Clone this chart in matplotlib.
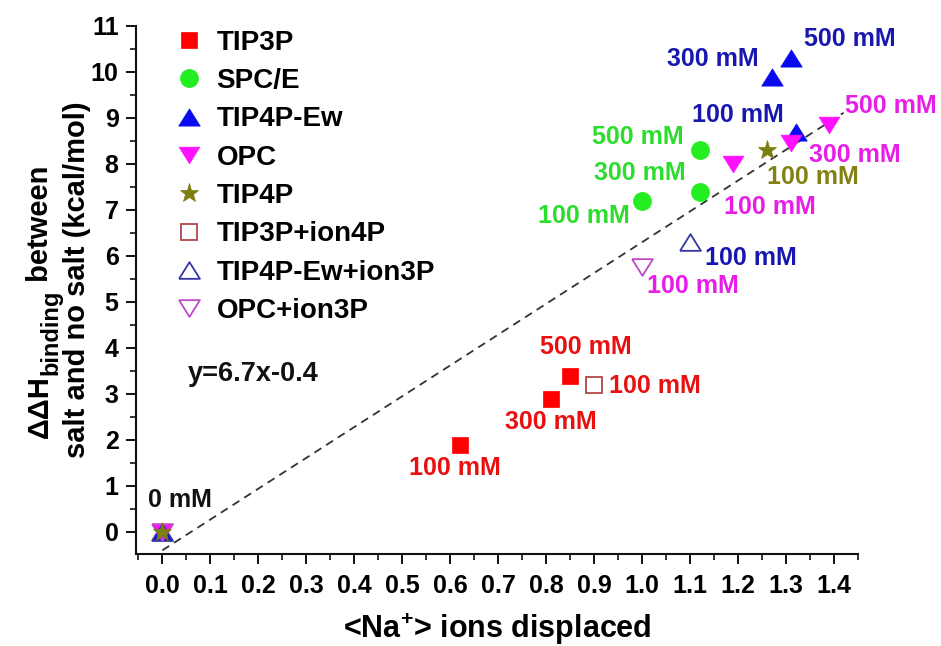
import matplotlib
matplotlib.use("Agg")
import matplotlib.pyplot as plt
import numpy as np
from matplotlib.ticker import MultipleLocator

plt.rcParams['font.family'] = ['Liberation Sans', 'DejaVu Sans']
plt.rcParams['font.weight'] = 'bold'
plt.rcParams['mathtext.default'] = 'regular'

# ---------------- data ----------------
tip3p_x = [0.62, 0.81, 0.85]
tip3p_y = [1.9, 2.9, 3.4]
spce_x = [1.00, 1.12, 1.12]
spce_y = [7.2, 7.4, 8.3]
tip4pew_x = [0.0, 1.32, 1.27, 1.31]
tip4pew_y = [0.0, 8.7, 9.9, 10.3]
opc_x = [0.0, 1.19, 1.31, 1.39]
opc_y = [0.0, 8.0, 8.45, 8.85]
tip4p_x = [0.0, 1.26]
tip4p_y = [0.0, 8.3]
tip3p_ion4p_x = [0.90]
tip3p_ion4p_y = [3.2]
tip4pew_ion3p_x = [0.0, 1.10]
tip4pew_ion3p_y = [0.0, 6.3]
opc_ion3p_x = [0.0, 1.00]
opc_ion3p_y = [0.0, 5.75]

fit_slope = 6.7
fit_intercept = -0.4
fit_x_range = [0.0, 1.42]

x_ticks = [0.0, 0.1, 0.2, 0.3, 0.4, 0.5, 0.6, 0.7, 0.8, 0.9, 1.0, 1.1, 1.2, 1.3, 1.4]
y_ticks = [0, 1, 2, 3, 4, 5, 6, 7, 8, 9, 10, 11]

# point labels: (text, x, y)
labels_tip3p = [("100 mM", 0.62, 1.9), ("300 mM", 0.81, 2.9), ("500 mM", 0.85, 3.4)]
labels_tip3p_ion4p = [("100 mM", 0.90, 3.2)]
labels_spce = [("100 mM", 1.00, 7.2), ("300 mM", 1.12, 7.4), ("500 mM", 1.12, 8.3)]
labels_tip4pew = [("100 mM", 1.32, 8.7), ("300 mM", 1.27, 9.9), ("500 mM", 1.31, 10.3)]
labels_opc = [("100 mM", 1.19, 8.0), ("300 mM", 1.31, 8.45), ("500 mM", 1.39, 8.85)]
labels_tip4p = [("100 mM", 1.26, 8.3)]
labels_tip4pew_ion3p = [("100 mM", 1.10, 6.3)]
labels_opc_ion3p = [("100 mM", 1.00, 5.75)]
labels_zero = [("0 mM", 0.0, 0.0)]

# ---------------- figure ----------------
W, H = 941, 646
fig = plt.figure(figsize=(W / 100, H / 100), dpi=100)
ax = fig.add_axes([0.1445, 0.1424, 0.7673, 0.8174])

up_tri = [(-1, -0.8), (1, -0.8), (0, 0.8), (-1, -0.8)]
down_tri = [(-1, 0.8), (1, 0.8), (0, -0.8), (-1, 0.8)]

# fit line
fx = np.array(fit_x_range)
ax.plot(fx, fit_slope * fx + fit_intercept, ls=(0, (4.5, 3.2)), color='#333333', lw=1.3, zorder=1)

ax.plot(tip3p_x, tip3p_y, ls='none', marker='s', ms=11.5, mfc='#ff0000', mec='#ff0000', mew=0.5, label='TIP3P', zorder=3)
ax.plot(spce_x, spce_y, ls='none', marker='o', ms=13, mfc='#22ee22', mec='#22ee22', mew=0.5, label='SPC/E', zorder=3)
ax.plot(tip4pew_x, tip4pew_y, ls='none', marker=up_tri, ms=15.5, mfc='#0a0af0', mec='#0a0af0', mew=0.5, label='TIP4P-Ew', zorder=3)
ax.plot(opc_x, opc_y, ls='none', marker=down_tri, ms=15, mfc='#ff10ff', mec='#ff10ff', mew=0.5, label='OPC', zorder=3)
ax.plot(tip4p_x, tip4p_y, ls='none', marker='*', ms=14, mfc='#7d7d10', mec='#7d7d10', mew=0.5, label='TIP4P', zorder=5)
ax.plot(tip3p_ion4p_x, tip3p_ion4p_y, ls='none', marker='s', ms=11, mfc='white', mec='#b04848', mew=1.3, label='TIP3P+ion4P', zorder=3)
ax.plot(tip4pew_ion3p_x, tip4pew_ion3p_y, ls='none', marker=up_tri, ms=15, mfc='none', mec='#3535a5', mew=1.3, label='TIP4P-Ew+ion3P', zorder=4)
ax.plot(opc_ion3p_x, opc_ion3p_y, ls='none', marker=down_tri, ms=15, mfc='none', mec='#c048c8', mew=1.3, label='OPC+ion3P', zorder=4)

ann_fs = 18


def annotate(lbls, offsets, color):
    for (t, x, y), (dx, dy) in zip(lbls, offsets):
        ax.annotate(t, (x, y), xytext=(dx, dy), textcoords='offset points',
                    ha='center', va='center', fontsize=ann_fs, fontweight='bold', color=color)


annotate(labels_tip3p, [(-3.6, -16.6), (0, -16.6), (11.5, 20.2)], '#e81010')
annotate(labels_tip3p_ion4p, [(44, -0.7)], '#e81010')
annotate(labels_spce, [(-41.8, -10.8), (-43.2, 13.7), (-44.6, 9.4)], '#2ddd2d')
annotate(labels_tip4pew, [(-41.8, 12.2), (-42.5, 13.0), (42.5, 13.7)], '#1818b0')
annotate(labels_opc, [(26.6, -31), (46, -8.6), (44, 13.7)], '#e81ee8')
annotate(labels_tip4p, [(33, -19.4)], '#828214')
annotate(labels_tip4pew_ion3p, [(44, -11.5)], '#1818b0')
annotate(labels_opc_ion3p, [(36.7, -13.7)], '#e81ee8')
annotate(labels_zero, [(13, 23)], '#111111')

ax.text(0.163, 0.341, 'y=6.7x-0.4', transform=ax.transAxes, ha='center', va='center',
        fontsize=19.5, fontweight='bold', color='#111111')

# axes
ax.set_xlim(-0.055, 1.45)
ax.set_ylim(-0.48, 11)
ax.set_xticks(x_ticks)
ax.set_xticklabels([f"{v:.1f}" for v in x_ticks])
ax.set_yticks(y_ticks)
ax.set_yticklabels([str(v) for v in y_ticks])
ax.xaxis.set_minor_locator(MultipleLocator(0.05))
ax.yaxis.set_minor_locator(MultipleLocator(0.5))
for s in ['top', 'right']:
    ax.spines[s].set_visible(False)
for s in ['left', 'bottom']:
    ax.spines[s].set_linewidth(1.5)
    ax.spines[s].set_color('#111111')
ax.tick_params(which='major', direction='out', length=7.5, width=1.4, color='#111111', labelsize=18)
ax.tick_params(which='minor', direction='out', length=4, width=1.2, color='#111111')
ax.tick_params(axis='x', pad=7)
ax.tick_params(axis='y', pad=5)
for lab in ax.get_xticklabels() + ax.get_yticklabels():
    lab.set_fontweight('bold')

ax.set_xlabel('<Na$^{+}$> ions displaced', fontsize=22, fontweight='bold', labelpad=9.5)

# y label: line 2
fig.text(85 / W, 1 - 280 / H, 'salt and no salt (kcal/mol)', rotation=90, rotation_mode='anchor',
         ha='center', va='baseline', fontsize=21, fontweight='bold')
# y label: line 1 built from pieces (main, subscript, main)
parts = [("ΔΔH", 21, 0), ("binding", 17, 9), (" between", 21, 0)]
ptexts = []
for s, fs, dx in parts:
    ptexts.append(fig.text(0, 0, s, rotation=90, rotation_mode='anchor', ha='left',
                           va='baseline', fontsize=fs, fontweight='bold'))
fig.canvas.draw()
renderer = fig.canvas.get_renderer()
lengths = [t.get_window_extent(renderer).height for t in ptexts]
ystart = (H - 302) - sum(lengths) / 2
for t, L, (s, fs, dx) in zip(ptexts, lengths, parts):
    t.set_position(((48 + dx) / W, ystart / H))
    ystart += L

leg = ax.legend(loc='upper left', bbox_to_anchor=(0.0499, 0.993), frameon=False,
                fontsize=20, handlelength=1.2, handletextpad=0.4, labelspacing=0.445,
                borderaxespad=0, borderpad=0, numpoints=1)
for t in leg.get_texts():
    t.set_fontweight('bold')

fig.savefig('out.png', dpi=100)
